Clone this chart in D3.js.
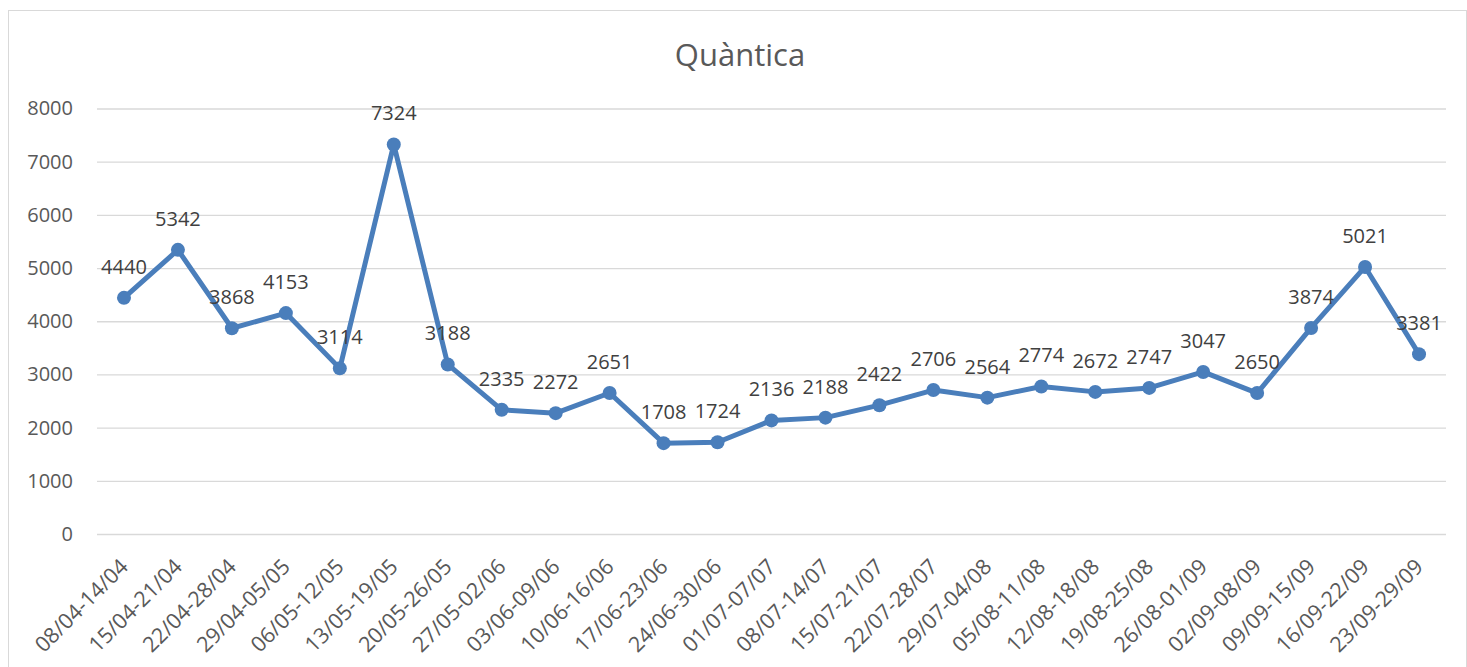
<!DOCTYPE html>
<html>
<head>
<meta charset="utf-8">
<script src="https://cdn.jsdelivr.net/npm/d3@7"></script>
<style>
  body { margin: 0; background: #fff; }
  text { font-family: "Open Sans", sans-serif; }
</style>
</head>
<body>
<div id="container"></div>
<script>
// week ranges on the x axis
const weeks = [
  "08/04-14/04", "15/04-21/04", "22/04-28/04", "29/04-05/05", "06/05-12/05",
  "13/05-19/05", "20/05-26/05", "27/05-02/06", "03/06-09/06", "10/06-16/06",
  "17/06-23/06", "24/06-30/06", "01/07-07/07", "08/07-14/07", "15/07-21/07",
  "22/07-28/07", "29/07-04/08", "05/08-11/08", "12/08-18/08", "19/08-25/08",
  "26/08-01/09", "02/09-08/09", "09/09-15/09", "16/09-22/09", "23/09-29/09"
];
const values = [
  4440, 5342, 3868, 4153, 3114, 7324, 3188, 2335, 2272, 2651,
  1708, 1724, 2136, 2188, 2422, 2706, 2564, 2774, 2672, 2747,
  3047, 2650, 3874, 5021, 3381
];
const yTicks = [0, 1000, 2000, 3000, 4000, 5000, 6000, 7000, 8000];
const title = "Quàntica";

const W = 1467, H = 667;
const margin = { top: 108.5, right: 21, bottom: 133, left: 97 };
const width = W - margin.left - margin.right;
const height = H - margin.top - margin.bottom;

const data = weeks.map((w, i) => ({ label: w, value: values[i] }));

const root = d3.select('#container')
  .append('svg')
  .attr('width', W)
  .attr('height', H);

// outer frame
root.append('rect')
  .attr('x', 8.5).attr('y', 10.5)
  .attr('width', W - 9).attr('height', H - 10)
  .attr('fill', 'none')
  .attr('stroke', '#d9d9d9');

root.append('text')
  .attr('x', 740)
  .attr('y', 66)
  .attr('text-anchor', 'middle')
  .attr('fill', '#595959')
  .style('font-size', '31px')
  .text(title);

const svg = root.append('g')
  .attr('transform', `translate(${margin.left},${margin.top})`);

const xScale = d3.scalePoint()
  .domain(weeks)
  .range([0, width])
  .padding(0.5);
const yScale = d3.scaleLinear()
  .domain([0, 8000])
  .range([height, 0]);

// gridlines + y labels
const yAxis = svg.append('g')
  .call(d3.axisLeft(yScale).tickValues(yTicks).tickSize(-width).tickPadding(24).tickFormat(d3.format('d')));
yAxis.select('.domain').remove();
yAxis.selectAll('line').attr('stroke', '#d9d9d9').attr('stroke-width', 1.3);
yAxis.selectAll('text')
  .attr('fill', '#595959')
  .style('font-size', '20px');

// x labels, rotated
const xAxis = svg.append('g')
  .attr('transform', `translate(0,${height})`)
  .call(d3.axisBottom(xScale).tickSize(0).tickPadding(0));
xAxis.select('.domain').remove();
xAxis.selectAll('text')
  .attr('fill', '#595959')
  .style('font-size', '21.5px')
  .attr('text-anchor', 'end')
  .attr('dy', 0)
  .attr('transform', 'translate(5,34) rotate(-45)');

const line = d3.line()
  .x(d => xScale(d.label))
  .y(d => yScale(d.value));

svg.append('path')
  .datum(data)
  .attr('fill', 'none')
  .attr('stroke', '#4a7ebb')
  .attr('stroke-width', 5)
  .attr('stroke-linejoin', 'round')
  .attr('d', line);

svg.selectAll('.dot')
  .data(data)
  .enter().append('circle')
  .attr('class', 'dot')
  .attr('cx', d => xScale(d.label))
  .attr('cy', d => yScale(d.value))
  .attr('r', 7)
  .attr('fill', '#4a7ebb');

// value labels above points
svg.selectAll('.val')
  .data(data)
  .enter().append('text')
  .attr('class', 'val')
  .attr('x', d => xScale(d.label))
  .attr('y', d => yScale(d.value) - 24)
  .attr('text-anchor', 'middle')
  .attr('fill', '#404040')
  .style('font-size', '20px')
  .text(d => d.value);
</script>
</body>
</html>
